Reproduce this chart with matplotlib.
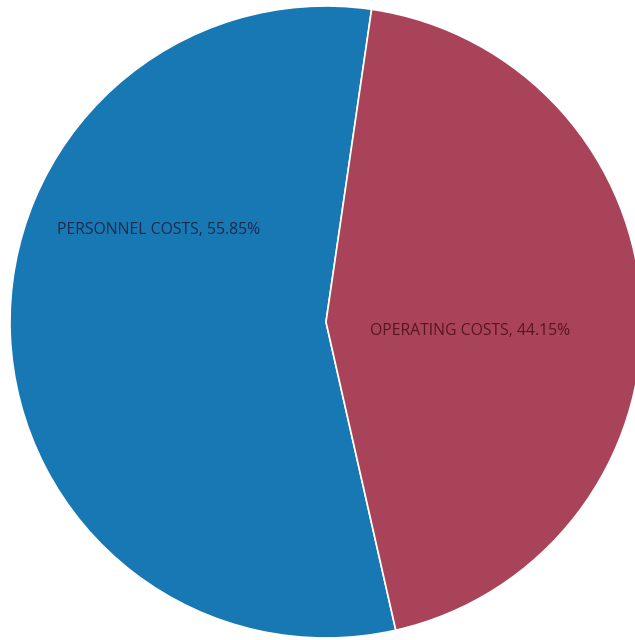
import matplotlib
matplotlib.use("Agg")
import matplotlib.pyplot as plt

# Budget split
categories = ["PERSONNEL COSTS", "OPERATING COSTS"]
shares = [55.85, 44.15]
colors = ["#1878b4", "#a9435a"]
label_colors = ["#1c2b4c", "#5a1422"]

fig = plt.figure(figsize=(6.35, 6.4), dpi=100)
fig.patch.set_facecolor("white")
ax = fig.add_axes([0, 0, 1, 1])

cx, cy, r = 326, 318, 316
wedges, _ = ax.pie(
    shares,
    colors=colors,
    startangle=81.7,
    counterclock=True,
    center=(cx, cy),
    radius=r,
    frame=True,
    wedgeprops=dict(edgecolor="white", linewidth=1.2),
)
ax.set_xlim(0, 635)
ax.set_ylim(0, 640)
ax.set_aspect("equal")
ax.axis("off")

label_pos = [(57, 410), (370, 309)]
for name, val, (x, y), c in zip(categories, shares, label_pos, label_colors):
    ax.text(x, y, f"{name}, {val:.2f}%", color=c, fontsize=11.3,
            family="Open Sans", ha="left", va="center")

fig.savefig("out.png", dpi=100, facecolor="white")
